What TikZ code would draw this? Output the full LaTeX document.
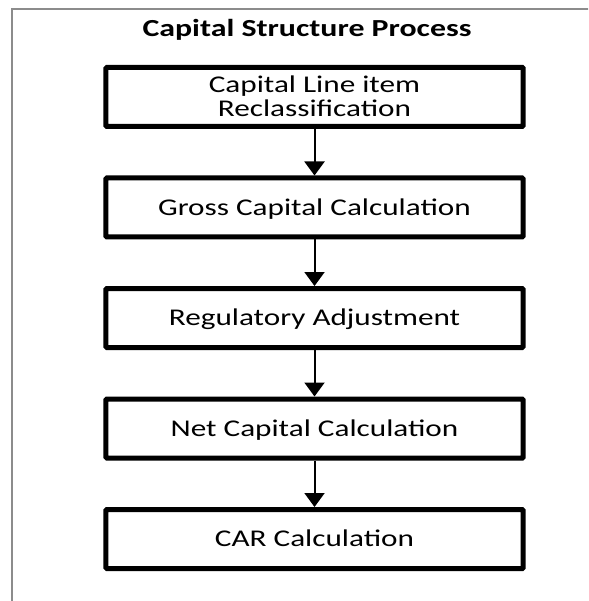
\documentclass[tikz,border=0pt]{standalone}
\usepackage{fontspec}
\setmainfont{Carlito}[FakeStretch=1.3]
\usetikzlibrary{arrows.meta}
\definecolor{framegray}{HTML}{8C8C8C}
\begin{document}
\begin{tikzpicture}[x=1pt,y=-1pt,
  stagebox/.style={draw=black, line width=5pt, rounded corners=1pt,
    minimum width=417.4pt, minimum height=59pt, inner sep=0pt,
    font=\fontsize{24}{24}\selectfont, text height=15.5pt, text depth=0pt},
  flowarrow/.style={draw=black, line width=2pt, -{Triangle[width=20pt,length=14pt]}}
]
\useasboundingbox (0,0) rectangle (588,601);
\begin{scope}
\clip (0,0) rectangle (588,601);
\draw[framegray, line width=1.5pt] (11.8,8.8) rectangle (620,640);
\end{scope}
\node[font=\bfseries\fontsize{24.5}{24.5}\selectfont, anchor=base] (title) at (307,37) {Capital Structure Process};
\node[stagebox, text height=39.5pt] (b1) at (314.5,97) {\begin{tabular}[b]{@{}c@{}}Capital Line item\\Reclassification\end{tabular}};
\node[stagebox] (b2) at (314.5,207.5) {Gross Capital Calculation};
\node[stagebox] (b3) at (314.5,318) {Regulatory Adjustment};
\node[stagebox] (b4) at (314.5,428.5) {Net Capital Calculation};
\node[stagebox] (b5) at (314.5,539) {CAR Calculation};
\draw[flowarrow] (b1.south) -- (b2.north);
\draw[flowarrow] (b2.south) -- (b3.north);
\draw[flowarrow] (b3.south) -- (b4.north);
\draw[flowarrow] (b4.south) -- (b5.north);
\end{tikzpicture}
\end{document}
